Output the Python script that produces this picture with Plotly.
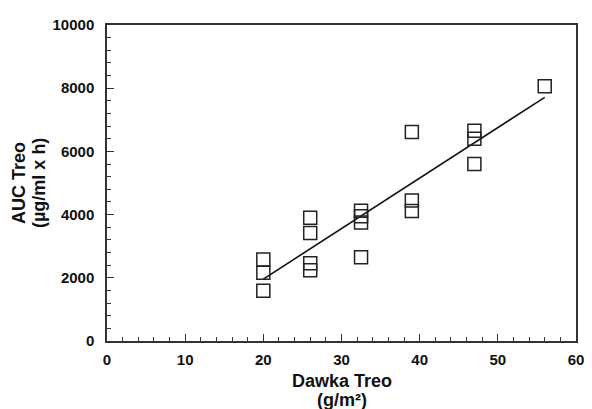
import plotly.graph_objects as go

# Data
dose = [20, 20, 20, 26, 26, 26, 26, 32.5, 32.5, 32.5, 32.5, 39, 39, 39, 47, 47, 47, 56]
auc = [2580, 2160, 1590, 3900, 3420, 2460, 2240, 4120, 3950, 3750, 2650, 6610, 4450, 4110, 6650, 6400, 5600, 8060]

fit_x = [20, 56]
fit_y = [1960, 7710]

x_ticks = [0, 10, 20, 30, 40, 50, 60]
y_ticks = [0, 2000, 4000, 6000, 8000, 10000]

font_family = "Liberation Sans, Arial, sans-serif"

fig = go.Figure()
fig.add_trace(go.Scatter(
    x=fit_x, y=fit_y, mode="lines",
    line=dict(color="#111111", width=1.6),
    showlegend=False, hoverinfo="skip"))
fig.add_trace(go.Scatter(
    x=dose, y=auc, mode="markers",
    marker=dict(symbol="square-open", size=13, color="#222222",
                line=dict(width=1.5, color="#222222")),
    showlegend=False))

axis_common = dict(
    showgrid=False, zeroline=False, showline=True, linecolor="#333333",
    linewidth=1.5, mirror=True, ticks="inside", tickcolor="#333333",
    tickwidth=1.3, ticklen=7,
    tickfont=dict(family=font_family, size=15, color="#111111", weight="bold"),
)

fig.update_xaxes(range=[0, 60], tickvals=x_ticks, ticktext=[str(v) for v in x_ticks],
                 minor=dict(dtick=2, ticklen=4, ticks="inside", tickcolor="#333333", tickwidth=1.2),
                 ticklabelstandoff=4, **axis_common)
fig.update_yaxes(range=[0, 10000], tickvals=y_ticks, ticktext=[str(v) for v in y_ticks],
                 minor=dict(dtick=400, ticklen=4, ticks="inside", tickcolor="#333333", tickwidth=1.2),
                 ticklabelstandoff=8, **axis_common)

title_font = dict(family=font_family, size=18, color="#111111", weight="bold")
annotations = [
    dict(text="Dawka Treo", x=0.5, y=0, xref="paper", yref="paper",
         xanchor="center", yanchor="middle", yshift=-40, showarrow=False, font=title_font),
    dict(text="(g/m²)", x=0.5, y=0, xref="paper", yref="paper",
         xanchor="center", yanchor="middle", yshift=-59, showarrow=False, font=title_font),
    dict(text="AUC Treo", x=0, y=0.5, xref="paper", yref="paper", textangle=-90,
         xanchor="center", yanchor="middle", xshift=-88, showarrow=False, font=title_font),
    dict(text="(µg/ml x h)", x=0, y=0.5, xref="paper", yref="paper", textangle=-90,
         xanchor="center", yanchor="middle", xshift=-68, showarrow=False, font=title_font),
]

# the page body adds an 8 px offset, so the figure is sized to fit the window
fig.update_layout(
    width=584, height=401,
    margin=dict(l=99, r=8, t=13, b=68),
    paper_bgcolor="white", plot_bgcolor="white",
    annotations=annotations,
    font=dict(family=font_family),
)

fig.write_html("out.html")
